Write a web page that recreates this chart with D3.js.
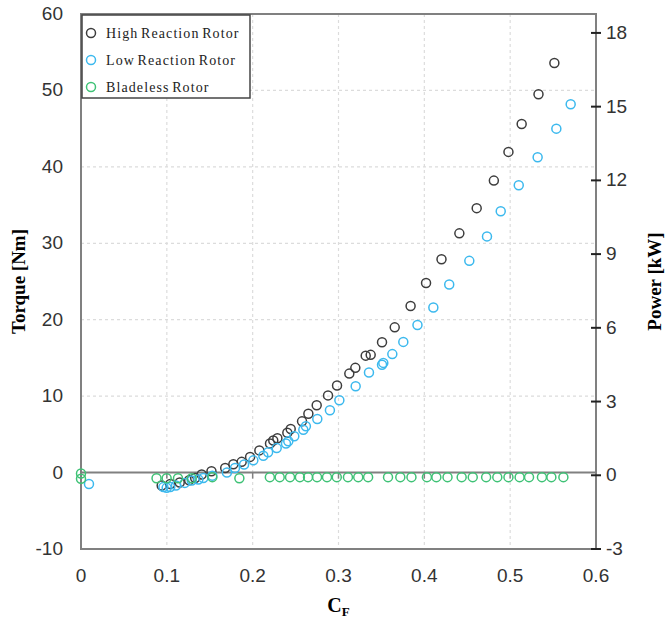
<!DOCTYPE html>
<html>
<head>
<meta charset="utf-8">
<script src="https://d3js.org/d3.v7.min.js"></script>
<style>
  body { margin: 0; background: #fff; }
  svg { display: block; }
</style>
</head>
<body>
<script>
// Torque vs C_F: [CF, torque Nm]
var highReaction = [
    [0.094, -1.7], [0.104, -1.5], [0.115, -1.3], [0.126, -1.0], [0.133, -0.7],
    [0.1406, -0.26], [0.152, 0.17], [0.168, 0.6], [0.1775, 1.1], [0.1872, 1.4],
    [0.197, 2.05], [0.2078, 2.9], [0.2202, 3.8], [0.224, 4.2], [0.2288, 4.5],
    [0.2404, 5.2], [0.2443, 5.7], [0.2575, 6.7], [0.2649, 7.7], [0.2746, 8.8],
    [0.2878, 10.1], [0.2983, 11.4], [0.3126, 12.95], [0.3196, 13.7], [0.3317, 15.3],
    [0.3375, 15.4], [0.3507, 17.05], [0.3655, 19.0], [0.384, 21.8], [0.402, 24.8],
    [0.420, 27.9], [0.4408, 31.3], [0.461, 34.6], [0.481, 38.2], [0.498, 41.96],
    [0.5134, 45.6], [0.533, 49.5], [0.5515, 53.6]
];
var lowReaction = [
    [0.0093, -1.5], [0.096, -1.9], [0.0998, -2.0], [0.104, -1.9], [0.1107, -1.7],
    [0.121, -1.35], [0.129, -1.05], [0.1367, -0.9], [0.1425, -0.7], [0.153, -0.4],
    [0.170, 0.0], [0.1794, 0.6], [0.190, 1.05], [0.2008, 1.6], [0.2124, 2.2],
    [0.218, 2.66], [0.228, 3.2], [0.2388, 3.8], [0.2415, 4.1], [0.2485, 4.75],
    [0.259, 5.6], [0.262, 6.06], [0.2753, 7.0], [0.290, 8.15], [0.301, 9.46],
    [0.320, 11.3], [0.3355, 13.1], [0.3507, 14.1], [0.3522, 14.35], [0.3627, 15.5],
    [0.3755, 17.1], [0.392, 19.3], [0.4105, 21.6], [0.429, 24.6], [0.4524, 27.7],
    [0.473, 30.9], [0.489, 34.2], [0.510, 37.6], [0.532, 41.25], [0.5538, 45.0],
    [0.5705, 48.2]
];
var bladeless = [
    [0.0, -0.13], [0.0, -0.8], [0.088, -0.74], [0.0998, -0.74], [0.113, -0.74],
    [0.129, -0.74], [0.153, -0.6], [0.1845, -0.74], [0.220, -0.6], [0.2315, -0.6],
    [0.2435, -0.6], [0.255, -0.6], [0.2645, -0.6], [0.275, -0.6], [0.2866, -0.6],
    [0.298, -0.6], [0.311, -0.6], [0.323, -0.6], [0.3345, -0.6], [0.3577, -0.6],
    [0.372, -0.6], [0.385, -0.6], [0.403, -0.6], [0.414, -0.6], [0.427, -0.6],
    [0.4435, -0.6], [0.4564, -0.6], [0.472, -0.6], [0.485, -0.6], [0.498, -0.6],
    [0.511, -0.6], [0.522, -0.6], [0.537, -0.6], [0.548, -0.6], [0.562, -0.6]
];
var seriesNames = ["High Reaction Rotor", "Low Reaction Rotor", "Bladeless Rotor"];
var xTicks = [0, 0.1, 0.2, 0.3, 0.4, 0.5, 0.6];
var torqueTicks = [-10, 0, 10, 20, 30, 40, 50, 60];
var powerTicks = [-3, 0, 3, 6, 9, 12, 15, 18];

var width = 671, height = 621,
    plotLeft = 81, plotRight = 596, plotTop = 14, plotBottom = 549,
    colors = ["#3d3d3d", "#3cb9ee", "#3fc276"],
    allSeries = [highReaction, lowReaction, bladeless];

var x = d3.scaleLinear().domain([0, 0.6]).range([plotLeft, plotRight]);
var y = d3.scaleLinear().domain([-10, 60]).range([plotBottom, plotTop]);
var yPower = d3.scaleLinear().domain([-3, 18.77]).range([plotBottom, plotTop]);

var svg = d3.select("body").append("svg")
    .attr("width", width)
    .attr("height", height);

// grid
svg.append("g").selectAll("line")
    .data(xTicks.slice(1, -1))
    .enter().append("line")
    .attr("x1", d => x(d)).attr("x2", d => x(d))
    .attr("y1", plotTop).attr("y2", plotBottom)
    .attr("stroke", "#dcdcdc").attr("stroke-width", 1.2).attr("stroke-dasharray", "3,3");
svg.append("g").selectAll("line")
    .data(torqueTicks.filter(d => d > 0 && d < 60))
    .enter().append("line")
    .attr("x1", plotLeft).attr("x2", plotRight)
    .attr("y1", d => y(d)).attr("y2", d => y(d))
    .attr("stroke", "#dcdcdc").attr("stroke-width", 1.2).attr("stroke-dasharray", "3,3");

// zero line with ticks
svg.append("line")
    .attr("x1", plotLeft).attr("x2", plotRight)
    .attr("y1", y(0)).attr("y2", y(0))
    .attr("stroke", "#808080").attr("stroke-width", 2);
svg.append("g").selectAll("line")
    .data(xTicks.slice(1, -1))
    .enter().append("line")
    .attr("x1", d => x(d)).attr("x2", d => x(d))
    .attr("y1", y(0)).attr("y2", y(0) + 6)
    .attr("stroke", "#808080").attr("stroke-width", 1.5);

// frame
svg.append("rect")
    .attr("x", plotLeft).attr("y", plotTop)
    .attr("width", plotRight - plotLeft).attr("height", plotBottom - plotTop)
    .attr("fill", "none").attr("stroke", "#808080").attr("stroke-width", 2);

// right axis ticks
svg.append("g").selectAll("line")
    .data(powerTicks)
    .enter().append("line")
    .attr("x1", plotRight - 5).attr("x2", plotRight + 5)
    .attr("y1", d => yPower(d)).attr("y2", d => yPower(d))
    .attr("stroke", "#222").attr("stroke-width", 2);

var tickFont = "'Liberation Sans Narrow', 'Liberation Sans', Arial, sans-serif";

svg.append("g").selectAll("text")
    .data(torqueTicks)
    .enter().append("text")
    .attr("x", 63).attr("y", d => y(d) + 6)
    .attr("text-anchor", "end")
    .style("font-family", tickFont).style("font-size", "19px").attr("fill", "#333")
    .text(d => d);

svg.append("g").selectAll("text")
    .data(powerTicks)
    .enter().append("text")
    .attr("x", 606).attr("y", d => yPower(d) + 6)
    .style("font-family", tickFont).style("font-size", "19px").attr("fill", "#333")
    .text(d => d);

svg.append("g").selectAll("text")
    .data(xTicks)
    .enter().append("text")
    .attr("x", d => x(d)).attr("y", 582)
    .attr("text-anchor", "middle")
    .style("font-family", tickFont).style("font-size", "19px").attr("fill", "#333")
    .text(d => d);

// axis titles
var titleFont = "'Liberation Serif', 'Times New Roman', serif";
svg.append("text")
    .attr("transform", "translate(25," + ((plotTop + plotBottom) / 2) + ") rotate(-90)")
    .attr("text-anchor", "middle")
    .style("font-family", titleFont).style("font-size", "19px").style("font-weight", "bold")
    .text("Torque [Nm]");
svg.append("text")
    .attr("transform", "translate(661," + ((plotTop + plotBottom) / 2) + ") rotate(-90)")
    .attr("text-anchor", "middle")
    .style("font-family", titleFont).style("font-size", "19px").style("font-weight", "bold")
    .text("Power [kW]");
var cf = svg.append("text")
    .attr("x", x(0.3)).attr("y", 612)
    .attr("text-anchor", "middle")
    .style("font-family", titleFont).style("font-size", "20px").style("font-weight", "bold");
cf.append("tspan").text("C");
cf.append("tspan").attr("dy", 4).style("font-size", "13px").text("F");

// points
allSeries.forEach((data, i) => {
    svg.append("g").selectAll("circle")
        .data(data)
        .enter().append("circle")
        .attr("cx", d => x(d[0]))
        .attr("cy", d => y(d[1]))
        .attr("r", 4.5)
        .attr("fill", "none")
        .attr("stroke", colors[i])
        .attr("stroke-width", 1.5);
});

// legend
var legend = svg.append("g");
legend.append("rect")
    .attr("x", 82).attr("y", 15)
    .attr("width", 168).attr("height", 83)
    .attr("fill", "#fff").attr("stroke", "#444").attr("stroke-width", 1.5);
seriesNames.forEach((name, i) => {
    legend.append("circle")
        .attr("cx", 91).attr("cy", 33 + i * 27)
        .attr("r", 4.5)
        .attr("fill", "none").attr("stroke", colors[i]).attr("stroke-width", 1.5);
    legend.append("text")
        .attr("x", 106).attr("y", 38 + i * 27)
        .style("font-family", titleFont).style("font-size", "14px")
        .style("letter-spacing", "1.1px").style("word-spacing", "-2px")
        .attr("fill", "#222")
        .text(name);
});
</script>
</body>
</html>
